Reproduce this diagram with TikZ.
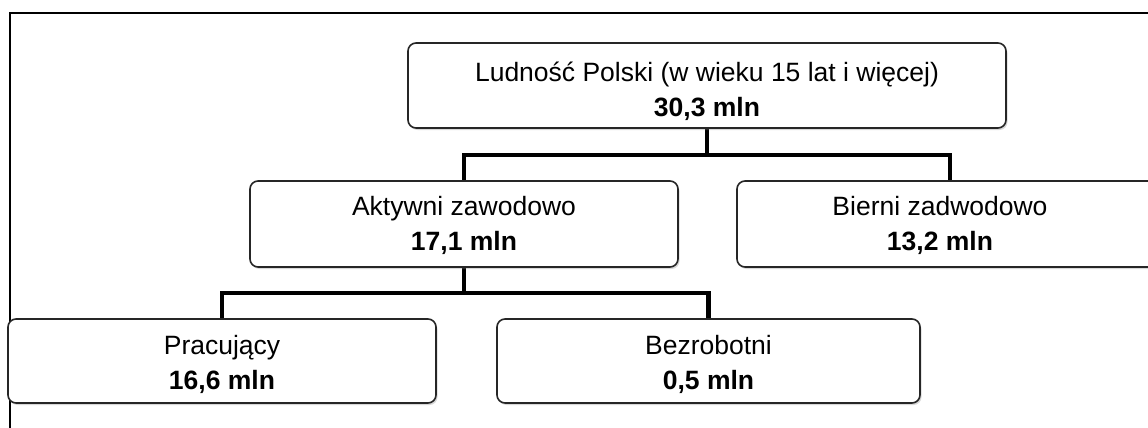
\documentclass[tikz,border=0pt]{standalone}
\usepackage{fontspec}
\setmainfont{Liberation Sans}
\usetikzlibrary{shadows}
\tikzset{
  box/.style={draw=black!85, line width=1.6pt, rounded corners=8pt, fill=white,
    inner sep=0pt,
    drop shadow={shadow xshift=1.5pt, shadow yshift=-2pt, opacity=0.3, fill=gray}},
  txt/.style={align=center, inner sep=0pt, font=\fontsize{26.5}{35}\selectfont},
  conn/.style={draw=black, line width=4.5pt},
  frame/.style={draw=black, line width=1.8pt}
}
\begin{document}
\begin{tikzpicture}[x=1pt,y=-1pt]
\useasboundingbox (0,0) rectangle (1148,428);
\clip (0,0) rectangle (1148,428);
\fill[white] (0,0) rectangle (1148,428);
\draw[frame] (1150,13) -- (10,13) -- (10,430);
\coordinate (j1) at (707,155);
\coordinate (j2) at (464,293);
\draw[conn] (707,125) -- (j1);
\draw[conn] (464,185) |- (j1) -| (950,185);
\draw[conn] (464,262) -- (j2);
\draw[conn] (222,323) |- (j2) -| (708.5,323);
\node[box, minimum width=598pt, minimum height=85pt] (top) at (707,85.5) {};
\node[box, minimum width=428pt, minimum height=86pt] (akt) at (464,224) {};
\node[box, minimum width=426pt, minimum height=86pt] (bie) at (950,224) {};
\node[box, minimum width=428pt, minimum height=84pt] (pra) at (222,361) {};
\node[box, minimum width=423pt, minimum height=84pt] (bez) at (708.5,361) {};
\node[txt] (top-t) at (707,91) {Ludność Polski (w wieku 15 lat i więcej)\\\textbf{30,3 mln}};
\node[txt] (akt-t) at (464,225.5) {Aktywni zawodowo\\\textbf{17,1 mln}};
\node[txt] (bie-t) at (940,225.5) {Bierni zadwodowo\\\textbf{13,2 mln}};
\node[txt] (pra-t) at (222,364) {Pracujący\\\textbf{16,6 mln}};
\node[txt] (bez-t) at (708.5,364) {Bezrobotni\\\textbf{0,5 mln}};
\end{tikzpicture}
\end{document}
